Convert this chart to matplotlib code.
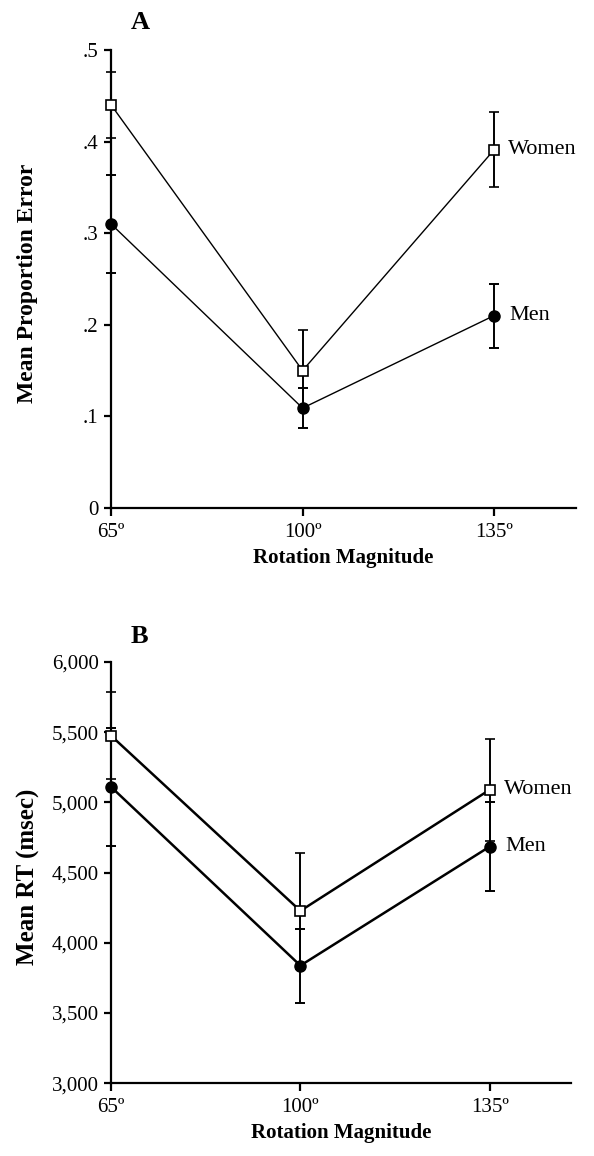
import numpy as np
import matplotlib
matplotlib.use('Agg')
import matplotlib.pyplot as plt
from matplotlib.ticker import FuncFormatter

# 回転角 [deg]
rotation = [65, 100, 135]
rotation_labels = ['65º', '100º', '135º']

# (A) 平均誤答率
error_women    = [0.44, 0.150, 0.391]
error_women_se = [0.036, 0.044, 0.041]
error_men      = [0.31, 0.109, 0.210]
error_men_se   = [0.054, 0.022, 0.035]

# (B) 平均反応時間 [msec]
rt_women    = [5475, 4227, 5090]
rt_women_se = [310, 415, 365]
rt_men      = [5110, 3837, 4685]
rt_men_se   = [420, 264, 320]

plt.rcParams['font.family'] = ['Liberation Serif', 'DejaVu Serif']


def plot_panel(ax, women, women_se, men, men_se, lw, ylim, yticks, yfmt,
               ylabel, ylabel_size, letter):
    """
    @brief:
      1パネル分の折れ線(誤差棒つき)を描画します
    """
    # 女性: 白抜き四角
    ax.errorbar(rotation, women, yerr=women_se, color='k', linewidth=lw,
                elinewidth=1.4, capsize=3.5, capthick=1.4,
                marker='s', markersize=7, markerfacecolor='white',
                markeredgecolor='k', markeredgewidth=1.2, clip_on=False, zorder=3)
    # 男性: 黒丸
    ax.errorbar(rotation, men, yerr=men_se, color='k', linewidth=lw,
                elinewidth=1.4, capsize=3.5, capthick=1.4,
                marker='o', markersize=8, markerfacecolor='k',
                markeredgecolor='k', clip_on=False, zorder=3)

    # 系列ラベル
    ax.annotate('Women', xy=(rotation[-1], women[-1]), xytext=(10, 0),
                textcoords='offset points', va='center', ha='left', fontsize=16)
    ax.annotate('Men', xy=(rotation[-1], men[-1]), xytext=(11, 0),
                textcoords='offset points', va='center', ha='left', fontsize=16)

    ax.set_xlim(65, 150)
    ax.set_ylim(ylim)
    ax.set_xticks(rotation)
    ax.set_xticklabels(rotation_labels)
    ax.set_yticks(yticks)
    ax.yaxis.set_major_formatter(FuncFormatter(yfmt))

    for s in ['top', 'right']:
        ax.spines[s].set_visible(False)
    for s in ['left', 'bottom']:
        ax.spines[s].set_linewidth(1.6)
    ax.tick_params(axis='x', direction='out', length=6, width=1.6, pad=5, labelsize=15)
    ax.tick_params(axis='y', direction='out', length=5, width=1.6, pad=4, labelsize=15)

    ax.set_xlabel('Rotation Magnitude', fontsize=15, fontweight='bold', labelpad=4)
    ax.set_ylabel(ylabel, fontsize=ylabel_size, fontweight='bold', va='center')
    ax.yaxis.set_label_coords(-0.18, 0.49)
    ax.text(0.062, 1.06, letter, transform=ax.transAxes, fontsize=19,
            fontweight='bold', ha='center', va='center')


def prop_fmt(v, pos):
    if abs(v) < 1e-9:
        return '0'
    return ('%.1f' % v).lstrip('0')


def rt_fmt(v, pos):
    return '{:,.0f}'.format(v)


fig = plt.figure(figsize=(5.94, 11.56), dpi=100)
ax_a = fig.add_axes([0.187, 0.5606, 0.783, 0.3962])
ax_b = fig.add_axes([0.187, 0.0631, 0.774, 0.3642])

plot_panel(ax_a, error_women, error_women_se, error_men, error_men_se, 1.0,
           (0, 0.5), [0, 0.1, 0.2, 0.3, 0.4, 0.5], prop_fmt,
           'Mean Proportion Error', 17, 'A')
plot_panel(ax_b, rt_women, rt_women_se, rt_men, rt_men_se, 1.8,
           (3000, 6000), [3000, 3500, 4000, 4500, 5000, 5500, 6000], rt_fmt,
           'Mean RT (msec)', 18, 'B')

fig.savefig('out.png', dpi=100)
